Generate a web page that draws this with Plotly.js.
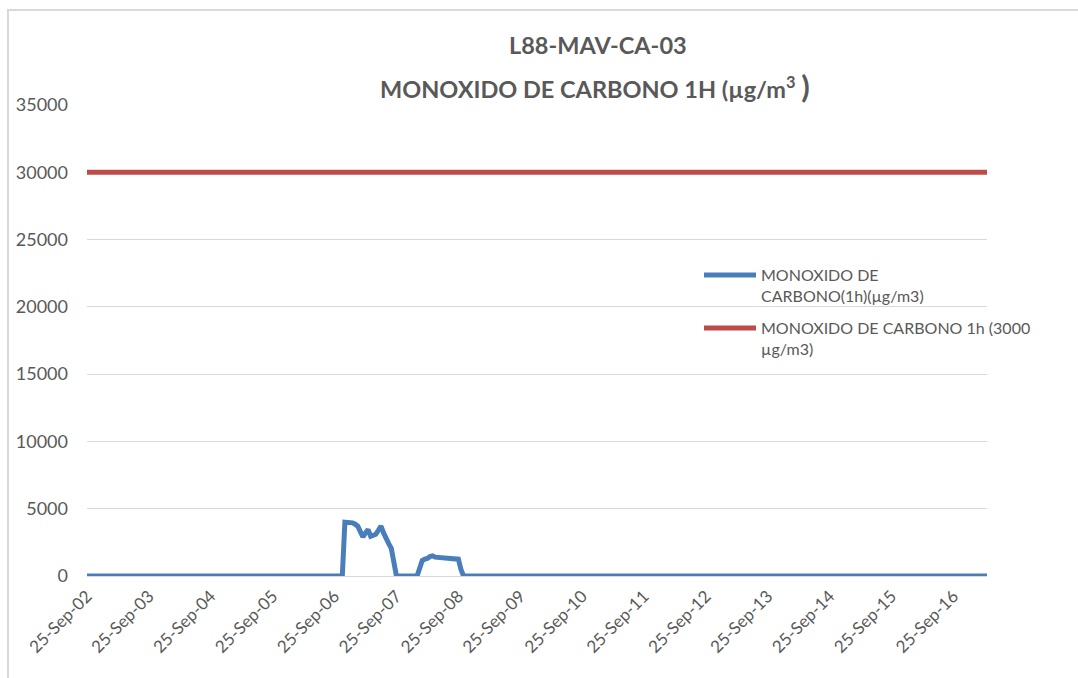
<!DOCTYPE html>
<html>
<head>
<meta charset="utf-8">
<script src="https://cdn.plot.ly/plotly-3.0.1.min.js"></script>
<style>
html,body{margin:0;padding:0;background:#fff;}
#wrap{position:relative;width:1078px;height:678px;overflow:hidden;}
#chart{position:absolute;left:0;top:0;width:1078px;height:678px;}
#frame{position:absolute;left:7px;top:9px;width:1200px;height:800px;border-left:2px solid #d9d9d9;border-top:2px solid #d9d9d9;pointer-events:none;}
</style>
</head>
<body>
<div id="wrap"><div id="chart"></div><div id="frame"></div></div>
<script>
const coTimes = [
  "2025-09-02 00:00", "2025-09-06 03:00",
  "2025-09-06 04:00", "2025-09-06 05:00", "2025-09-06 06:00", "2025-09-06 07:00",
  "2025-09-06 08:00", "2025-09-06 09:00", "2025-09-06 10:00", "2025-09-06 11:00",
  "2025-09-06 12:00", "2025-09-06 13:00", "2025-09-06 14:00", "2025-09-06 15:00",
  "2025-09-06 16:00", "2025-09-06 17:00", "2025-09-06 18:00", "2025-09-06 19:00",
  "2025-09-06 20:00", "2025-09-06 21:00", "2025-09-06 22:00", "2025-09-06 23:00",
  "2025-09-07 00:00", "2025-09-07 08:00",
  "2025-09-07 09:00", "2025-09-07 10:00", "2025-09-07 11:00", "2025-09-07 12:00",
  "2025-09-07 13:00", "2025-09-07 14:00", "2025-09-07 15:00", "2025-09-07 16:00",
  "2025-09-07 17:00", "2025-09-07 18:00", "2025-09-07 19:00", "2025-09-07 20:00",
  "2025-09-07 21:00", "2025-09-07 22:00", "2025-09-07 23:00", "2025-09-08 00:00",
  "2025-09-08 01:00", "2025-09-08 02:00",
  "2025-09-16 13:00"
];
const coValues = [
  0, 0,
  4000, 4000, 3980, 3950,
  3850, 3700, 3300, 2900,
  3200, 3450, 2950, 3000,
  3100, 3400, 3700, 3200,
  2700, 2400, 2050, 700,
  0, 0,
  700, 1150, 1250, 1300,
  1450, 1500, 1400, 1380,
  1400, 1400, 1380, 1380,
  1350, 1350, 1300, 1250,
  500, 0,
  0
];
// Limit line
const limitTimes = ["2025-09-02 00:00", "2025-09-16 13:00"];
const limitValues = [30000, 30000];

const seriesNames = [
  "MONOXIDO DE<br>CARBONO(1h)(µg/m3)",
  "MONOXIDO DE CARBONO 1h (3000<br>µg/m3)"
];
const seriesColors = ["#4a7ebb", "#be4b48"];
const titleLine1 = "L88-MAV-CA-03";
const titleLine2 = "MONOXIDO DE CARBONO 1H (µg/m<sup>3</sup> <span style=\"font-size:31px\">)</span>";
const yTicks = [0, 5000, 10000, 15000, 20000, 25000, 30000, 35000];

const FONT = "Lato, 'Open Sans', sans-serif";
const GREY = "#595959";

// plot area in pixels: x 87..987, y 105..576
const px = v => (v - 87) / 900;
const py = v => (576 - v) / 471;

const traces = [
  {x: coTimes, y: coValues, type: "scatter", mode: "lines", name: seriesNames[0],
   line: {color: seriesColors[0], width: 5}, showlegend: false},
  {x: limitTimes, y: limitValues, type: "scatter", mode: "lines", name: seriesNames[1],
   line: {color: seriesColors[1], width: 5}, showlegend: false}
];

const legendY = [275, 328];
const shapes = legendY.map((y, i) => ({
  type: "line", xref: "paper", yref: "paper",
  x0: px(704), x1: px(756), y0: py(y), y1: py(y),
  line: {color: seriesColors[i], width: 5}, layer: "above"
}));
const legendAnn = legendY.map((y, i) => ({
  text: seriesNames[i], xref: "paper", yref: "paper",
  x: px(759), y: py(y - 12), xanchor: "left", yanchor: "top", align: "left",
  showarrow: false, font: {family: FONT, size: 16, color: GREY}
}));

const layout = {
  width: 1078, height: 678,
  margin: {l: 87, r: 91, t: 105, b: 102},
  paper_bgcolor: "#ffffff", plot_bgcolor: "#ffffff",
  font: {family: FONT, color: GREY},
  showlegend: false,
  xaxis: {
    type: "date",
    range: [limitTimes[0], limitTimes[1]],
    tick0: "2025-09-02", dtick: 86400000,
    tickformat: "%y-%b-%d", tickangle: -45,
    showgrid: false, zeroline: false, showline: false, ticks: "",
    ticklabelstandoff: 6,
    tickfont: {family: FONT, size: 17, color: GREY}
  },
  yaxis: {
    range: [0, 35000], tickvals: yTicks, ticktext: yTicks.map(String),
    showgrid: true, gridcolor: "#d9d9d9", gridwidth: 1,
    zeroline: true, zerolinecolor: "#d9d9d9", zerolinewidth: 1,
    showline: false, ticks: "", ticklen: 0,
    ticklabelstandoff: 18,
    tickfont: {family: FONT, size: 18, color: GREY}
  },
  shapes: shapes,
  annotations: [
    {text: "<b>" + titleLine1 + "</b>", xref: "paper", yref: "paper", x: px(598), y: py(45),
     xanchor: "center", yanchor: "middle", showarrow: false,
     font: {family: FONT, size: 23.5, color: GREY}},
    {text: "<b>" + titleLine2 + "</b>", xref: "paper", yref: "paper", x: px(595), y: py(86),
     xanchor: "center", yanchor: "middle", showarrow: false,
     font: {family: FONT, size: 23.5, color: GREY}}
  ].concat(legendAnn)
};

Plotly.newPlot("chart", traces, layout, {displayModeBar: false, staticPlot: true});
</script>
</body>
</html>
